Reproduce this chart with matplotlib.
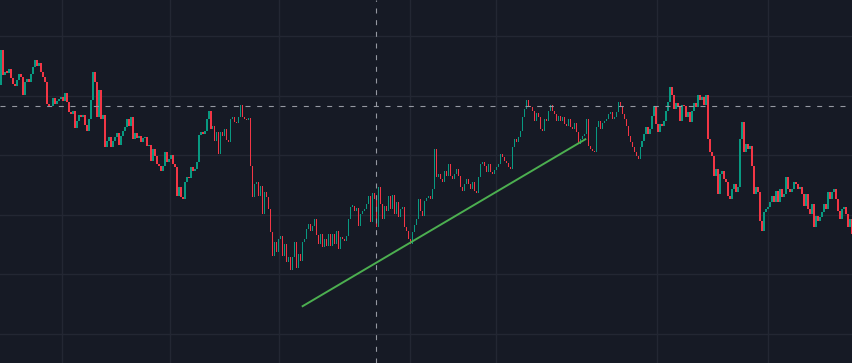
import numpy as np
import matplotlib
matplotlib.use("Agg")
import matplotlib.pyplot as plt

# closing prices, one per bar (open = previous close)
first_open = 1251
closes = [
    1286, 1261, 1264, 1263, 1267, 1258, 1252, 1250, 1256, 1262,
    1259, 1241, 1254, 1257, 1254, 1262, 1269, 1276, 1270, 1273,
    1264, 1259, 1254, 1232, 1228, 1230, 1238, 1232, 1235, 1237,
    1239, 1235, 1243, 1234, 1223, 1221, 1224, 1207, 1214, 1220,
    1218, 1220, 1210, 1204, 1216, 1236, 1264, 1254, 1218, 1246,
    1216, 1220, 1188, 1194, 1198, 1188, 1194, 1198, 1202, 1190,
    1199, 1204, 1208, 1216, 1209, 1218, 1196, 1202, 1197, 1199,
    1193, 1197, 1198, 1189, 1190, 1174, 1186, 1179, 1171, 1169,
    1164, 1169, 1183, 1173, 1176, 1180, 1171, 1168, 1139, 1148,
    1138, 1136, 1153, 1158, 1157, 1168, 1164, 1166, 1173, 1200,
    1203, 1201, 1204, 1216, 1224, 1206, 1209, 1194, 1203, 1181,
    1203, 1199, 1206, 1195, 1193, 1216, 1218, 1213, 1212, 1218,
    1231, 1218, 1216, 1215, 1217, 1169, 1138, 1151, 1153, 1139,
    1149, 1121, 1143, 1138, 1126, 1103, 1079, 1093, 1083, 1096,
    1099, 1079, 1091, 1072, 1078, 1064, 1078, 1093, 1066, 1081,
    1073, 1093, 1096, 1106, 1111, 1104, 1109, 1116, 1100, 1091,
    1101, 1088, 1096, 1089, 1101, 1089, 1101, 1091, 1104, 1086,
    1098, 1096, 1094, 1099, 1116, 1128, 1129, 1124, 1127, 1109,
    1121, 1124, 1126, 1131, 1139, 1113, 1142, 1136, 1108, 1148,
    1131, 1116, 1129, 1124, 1139, 1126, 1140, 1121, 1133, 1118,
    1126, 1128, 1108, 1104, 1096, 1091, 1103, 1110, 1116, 1136,
    1124, 1119, 1134, 1137, 1139, 1136, 1146, 1186, 1158, 1161,
    1156, 1153, 1164, 1159, 1171, 1159, 1156, 1161, 1166, 1159,
    1148, 1144, 1151, 1156, 1151, 1146, 1153, 1144, 1142, 1158,
    1171, 1173, 1169, 1163, 1171, 1163, 1161, 1165, 1168, 1171,
    1181, 1178, 1174, 1172, 1168, 1166, 1188, 1196, 1193, 1198,
    1204, 1218, 1226, 1236, 1230, 1228, 1224, 1214, 1222, 1218,
    1206, 1204, 1216, 1214, 1224, 1231, 1224, 1221, 1214, 1219,
    1214, 1218, 1211, 1209, 1216, 1208, 1206, 1212, 1203, 1191,
    1196, 1199, 1201, 1216, 1189, 1186, 1184, 1183, 1208, 1214,
    1206, 1212, 1214, 1216, 1221, 1223, 1216, 1218, 1223, 1234,
    1228, 1221, 1216, 1209, 1199, 1193, 1188, 1183, 1179, 1176,
    1188, 1194, 1201, 1208, 1201, 1206, 1219, 1229, 1211, 1203,
    1211, 1209, 1214, 1224, 1234, 1249, 1241, 1226, 1233, 1229,
    1214, 1231, 1229, 1218, 1223, 1213, 1224, 1233, 1228, 1241,
    1236, 1239, 1231, 1241, 1196, 1183, 1179, 1159, 1166, 1141,
    1161, 1164, 1156, 1153, 1139, 1136, 1146, 1151, 1143, 1148,
    1196, 1213, 1183, 1191, 1186, 1189, 1169, 1141, 1148, 1143,
    1114, 1104, 1123, 1126, 1128, 1133, 1139, 1133, 1144, 1133,
    1146, 1138, 1141, 1158, 1146, 1143, 1146, 1153, 1151, 1146,
    1148, 1141, 1129, 1141, 1126, 1121, 1131, 1108, 1119, 1114,
    1118, 1123, 1131, 1126, 1143, 1136, 1143, 1146, 1136, 1124,
    1116, 1126, 1128, 1121, 1108, 1116, 1101,
]

# time-axis grid positions (bar index) and price grid levels
grid_bars = [30.5, 84.5, 139, 204.5, 248, 328.5, 384]
grid_prices = [1000, 1060, 1120, 1180, 1240, 1300]

# crosshair and trend line
cross_bar = 187.5
cross_price = 1229
trend_bars = [151, 292.5]
trend_prices = [1028, 1196]

bg = "#161a25"
up_col = "#089981"
down_col = "#f23645"

closes = np.array(closes, dtype=float)
opens = np.concatenate([[first_open], closes[:-1]])
idx = np.arange(len(closes))
up = closes >= opens
bottoms = np.minimum(opens, closes)
heights = np.maximum(np.abs(closes - opens), 1.5)
colors = np.where(up, up_col, down_col)

fig = plt.figure(figsize=(8.53, 3.63), dpi=100, facecolor=bg)
ax = fig.add_axes([0, 0, 1, 1], facecolor=bg)

ax.bar(idx, heights, bottom=bottoms, width=0.75, color=colors,
       linewidth=0, antialiased=False, zorder=3)

for gx in grid_bars:
    ax.axvline(gx, color="#232733", linewidth=1.0, zorder=1)
for gy in grid_prices:
    ax.axhline(gy, color="#232733", linewidth=1.0, zorder=1)

ax.plot(trend_bars, trend_prices, color="#4caf50", linewidth=1.4, zorder=5)

ax.axvline(cross_bar, color="#9598a1", linewidth=0.8, linestyle=(0, (4.5, 6.0)), zorder=6)
ax.axhline(cross_price, color="#9598a1", linewidth=0.8, linestyle=(0, (4.5, 6.0)), zorder=6)

ax.set_xlim(-0.5, len(closes) - 0.5)
ax.set_ylim(970.8, 1336.2)
ax.axis("off")

fig.savefig("out.png", dpi=100, facecolor=bg)
